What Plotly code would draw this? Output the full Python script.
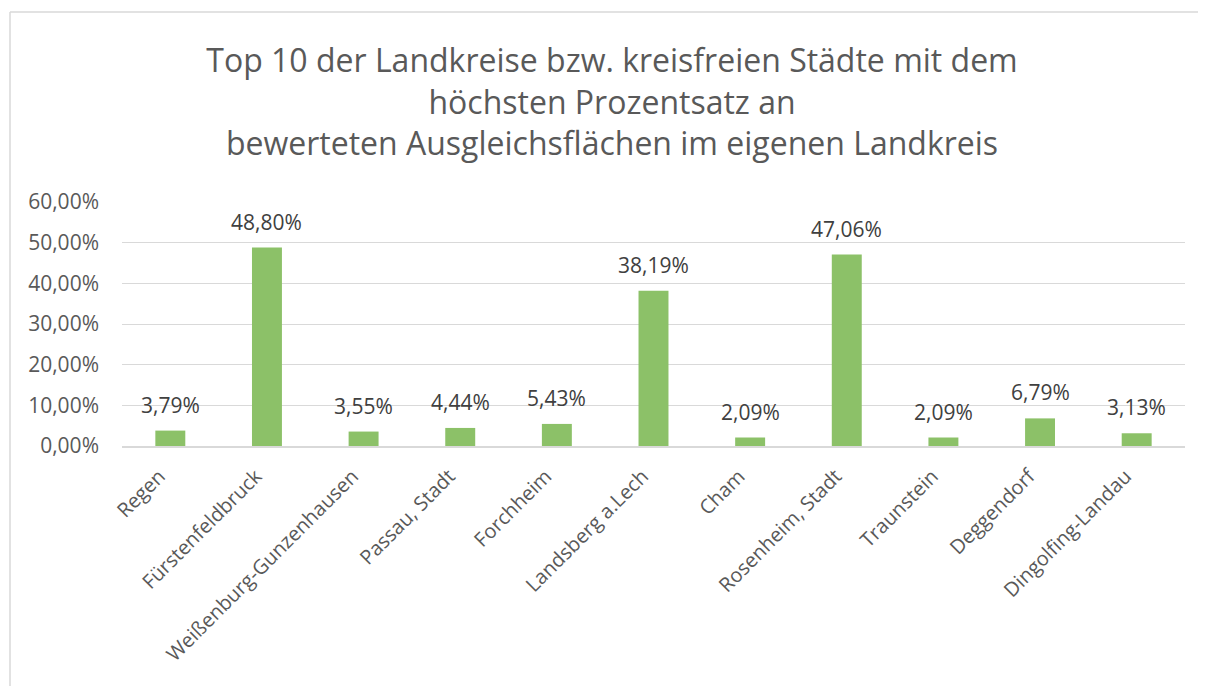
import plotly.graph_objects as go

categories = ["Regen", "Fürstenfeldbruck", "Weißenburg-Gunzenhausen", "Passau, Stadt",
              "Forchheim", "Landsberg a.Lech", "Cham", "Rosenheim, Stadt",
              "Traunstein", "Deggendorf", "Dingolfing-Landau"]
values = [3.79, 48.80, 3.55, 4.44, 5.43, 38.19, 2.09, 47.06, 2.09, 6.79, 3.13]
y_ticks = [0, 10, 20, 30, 40, 50, 60]

title_text = ("Top 10 der Landkreise bzw. kreisfreien Städte mit dem<br>"
              "höchsten Prozentsatz an<br>"
              "bewerteten Ausgleichsflächen im eigenen Landkreis")

def fmt(v):
    return f"{v:.2f}".replace(".", ",") + "%"

FONT = "Open Sans"
OFF = 8  # page body margin
W, H = 1206 - OFF, 686 - OFF
ML, MR = 122 - OFF, 21
MT = 202 - OFF
MB = H - (446 - OFF)

fig = go.Figure()
fig.add_trace(go.Bar(
    x=categories, y=values,
    marker=dict(color="#8CC168", line=dict(width=0)),
    width=0.31,
    hoverinfo="x+y",
))

for c, v in zip(categories, values):
    fig.add_annotation(x=c, y=v, text=fmt(v), showarrow=False,
                       yanchor="bottom", yshift=10,
                       font=dict(family=FONT, size=21, color="#404040"))

pw = W - ML - MR
ph = H - MT - MB
def px2paperx(px):
    return (px - OFF - ML) / pw
def py2papery(py):
    return (H - MB - (py - OFF)) / ph

fig.add_shape(type="line", xref="paper", yref="paper",
              x0=px2paperx(10), x1=px2paperx(1220), y0=py2papery(12), y1=py2papery(12),
              line=dict(color="#D9D9D9", width=1.5), layer="below")
fig.add_shape(type="line", xref="paper", yref="paper",
              x0=px2paperx(10), x1=px2paperx(10), y0=py2papery(12), y1=py2papery(720),
              line=dict(color="#D9D9D9", width=1.5), layer="below")

fig.update_layout(
    width=W, height=H,
    margin=dict(l=ML, r=MR, t=MT, b=MB, autoexpand=False),
    paper_bgcolor="white", plot_bgcolor="white",
    title=dict(text=title_text, x=(612 - OFF) / W, xref="container", xanchor="center",
               y=1 - (72 - OFF) / H, yref="container", yanchor="middle",
               font=dict(family=FONT, size=32, color="#595959")),
    showlegend=False,
    bargap=0.69,
    xaxis=dict(type="category", tickangle=-45, showgrid=False,
               showline=True, linecolor="#D9D9D9", linewidth=1.5,
               ticks="", ticklabelstandoff=9, ticklabelshift=-11,
               tickfont=dict(family=FONT, size=20, color="#595959")),
    yaxis=dict(range=[0, 60], tickvals=y_ticks, ticktext=[fmt(t) for t in y_ticks],
               showgrid=True, gridcolor="#D9D9D9", gridwidth=1.2,
               zeroline=False, showline=False, ticks="", ticklabelstandoff=22,
               tickfont=dict(family=FONT, size=21, color="#595959")),
)

fig.write_html("out.html")
